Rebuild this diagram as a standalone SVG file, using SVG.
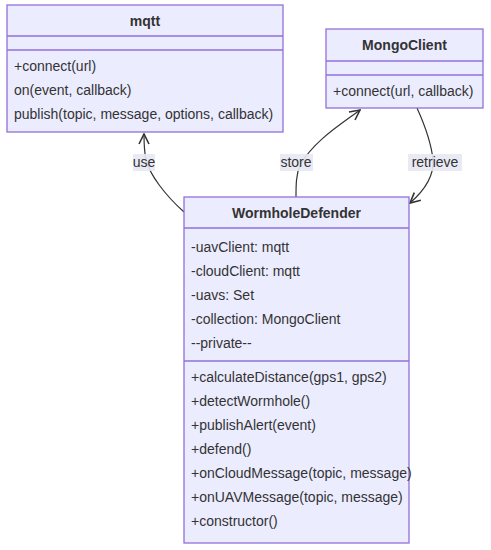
<svg xmlns="http://www.w3.org/2000/svg" width="491" height="550" viewBox="0 0 491 550">
<style>
.box{fill:#ECECFF;stroke:#9370DB;stroke-width:1.3}
.div{stroke:#9370DB;stroke-width:1.3}
text{font-family:"Trebuchet MS","Liberation Sans",Arial,sans-serif;font-size:14px;fill:#333}
.title{font-weight:bold;text-anchor:middle}
.edge{fill:none;stroke:#333;stroke-width:1.2}
.lbg{fill:#e8e8f4;opacity:0.9}
.lbl{text-anchor:middle}
</style>
<defs>
<marker id="arr" viewBox="0 0 12 12" refX="11" refY="6" markerWidth="12" markerHeight="12" markerUnits="userSpaceOnUse" orient="auto">
<path d="M1,1 L11,6 L1,11" fill="none" stroke="#333" stroke-width="1.6"/>
</marker>
</defs>
<rect width="491" height="550" fill="#fff"/>
<g id="edges">
<path class="edge" d="M184,212 C165,195 150,175 146,160 C144,150 144,142 144,134" marker-end="url(#arr)"/>
<path class="edge" d="M296,197 C296,185 296,175 300,165 C315,140 340,125 360,110" marker-end="url(#arr)"/>
<path class="edge" d="M417,108 C427,130 432,150 433,160 C434,175 425,190 410,203" marker-end="url(#arr)"/>
<g id="lbl-use"><rect class="lbg" x="133" y="154" width="22" height="17"/><text class="lbl" x="144" y="167">use</text></g>
<g id="lbl-store"><rect class="lbg" x="280" y="154" width="33" height="17"/><text class="lbl" x="296" y="167">store</text></g>
<g id="lbl-retrieve"><rect class="lbg" x="408" y="154" width="54" height="17"/><text class="lbl" x="435" y="167">retrieve</text></g>
</g>
<g id="mqtt">
<rect class="box" x="7" y="5" width="276" height="127"/>
<line class="div" x1="7" y1="36" x2="283" y2="36"/>
<line class="div" x1="7" y1="50" x2="283" y2="50"/>
<text class="title" x="145" y="26">mqtt</text>
<text x="14" y="71">+connect(url)</text>
<text x="14" y="95">on(event, callback)</text>
<text x="14" y="119">publish(topic, message, options, callback)</text>
</g>
<g id="MongoClient">
<rect class="box" x="326" y="29" width="157" height="79"/>
<line class="div" x1="326" y1="61" x2="483" y2="61"/>
<line class="div" x1="326" y1="75" x2="483" y2="75"/>
<text class="title" x="404.5" y="50">MongoClient</text>
<text x="333" y="96">+connect(url, callback)</text>
</g>
<g id="WormholeDefender">
<rect class="box" x="184" y="197" width="225" height="346"/>
<line class="div" x1="184" y1="228" x2="409" y2="228"/>
<line class="div" x1="184" y1="361" x2="409" y2="361"/>
<text class="title" x="296.5" y="218">WormholeDefender</text>
<text x="191" y="252">-uavClient: mqtt</text>
<text x="191" y="276">-cloudClient: mqtt</text>
<text x="191" y="300">-uavs: Set</text>
<text x="191" y="324">-collection: MongoClient</text>
<text x="191" y="348">--private--</text>
<text x="191" y="382">+calculateDistance(gps1, gps2)</text>
<text x="191" y="406">+detectWormhole()</text>
<text x="191" y="430">+publishAlert(event)</text>
<text x="191" y="454">+defend()</text>
<text x="191" y="478">+onCloudMessage(topic, message)</text>
<text x="191" y="502">+onUAVMessage(topic, message)</text>
<text x="191" y="526">+constructor()</text>
</g>
</svg>
